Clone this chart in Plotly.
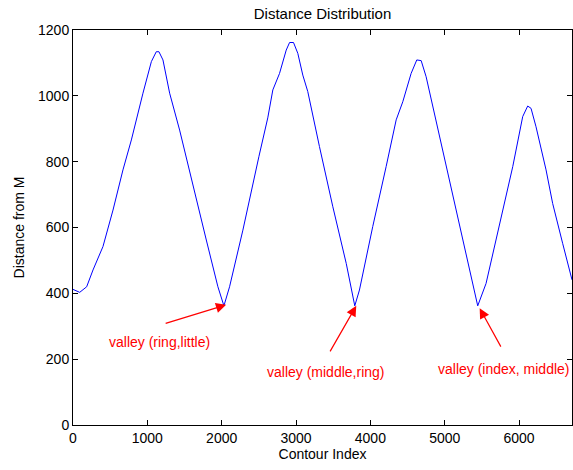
import plotly.graph_objects as go

# Contour index (x) and distance from M (y)
contour_index = [0, 90, 184, 269, 403, 538, 672, 785, 941, 1054, 1120, 1156, 1210, 1300,
                 1434, 1613, 1793, 1949, 2030, 2106, 2285, 2500, 2620, 2688, 2778, 2868,
                 2913, 2966, 3024, 3091, 3158, 3315, 3495, 3675, 3790, 3853, 3898, 4032,
                 4212, 4347, 4436, 4548, 4624, 4683, 4750, 4929, 5108, 5288, 5444, 5556,
                 5735, 5915, 6049, 6116, 6161, 6228, 6363, 6452, 6586, 6712]
distance = [412, 403, 420, 471, 542, 653, 775, 866, 1008, 1104, 1134, 1134, 1109, 1008,
            896, 734, 562, 420, 362, 420, 592, 815, 933, 1018, 1068, 1139,
            1162, 1162, 1129, 1063, 1013, 846, 663, 491, 362, 410, 461, 603,
            785, 927, 982, 1068, 1109, 1107, 1058, 876, 704, 511, 362, 430,
            603, 785, 937, 969, 962, 906, 775, 673, 552, 441]

x_ticks = [0, 1000, 2000, 3000, 4000, 5000, 6000]
y_ticks = [0, 200, 400, 600, 800, 1000, 1200]

valley_labels = ["valley (ring,little)", "valley (middle,ring)", "valley (index, middle)"]
valley_x = [2060, 3810, 5470]
valley_y = [365, 362, 355]

FONT = "Liberation Sans, Arial, Helvetica, sans-serif"

fig = go.Figure()
fig.add_trace(go.Scatter(x=contour_index, y=distance, mode="lines",
                         line=dict(color="#0000ff", width=1), showlegend=False))

# arrow tails (pixel offsets) and text placement
arrow_off = [(-62, 19), (-27, 47), (22, 40)]
text_pos = [(1167, 252, "center"), (3399, 161, "center"), (6712, 170, "right")]

anns = []
for i, lab in enumerate(valley_labels):
    anns.append(dict(x=valley_x[i], y=valley_y[i], xref="x", yref="y", text="",
                     showarrow=True, ax=arrow_off[i][0], ay=arrow_off[i][1],
                     arrowhead=2, arrowsize=1.7, arrowwidth=1.2, arrowcolor="#ff0000"))
    tx, ty, anchor = text_pos[i]
    anns.append(dict(x=tx, y=ty, xref="x", yref="y", text=lab, showarrow=False,
                     xanchor=anchor, yanchor="middle",
                     font=dict(family=FONT, size=14, color="#ff0000")))

fig.update_layout(
    width=573, height=470,
    margin=dict(l=73, r=1, t=30, b=45, pad=0, autoexpand=False),
    paper_bgcolor="white", plot_bgcolor="white",
    font=dict(family=FONT, size=14, color="black"),
    title=dict(text="Distance Distribution", x=0.5, xref="paper", xanchor="center",
               y=1 - 14 / 470, yref="container", yanchor="middle",
               font=dict(family=FONT, size=15, color="black")),
    annotations=anns,
)
fig.update_xaxes(range=[0, 6712], tickvals=x_ticks, ticks="inside", ticklen=5,
                 tickcolor="black", showline=True, linecolor="black", linewidth=1,
                 mirror="ticks", showgrid=False, zeroline=False, automargin=False,
                 title=dict(text="Contour Index", standoff=2,
                            font=dict(family=FONT, size=14, color="black")),
                 tickfont=dict(family=FONT, size=14, color="black"))
fig.update_yaxes(range=[0, 1200], tickvals=y_ticks, ticks="inside", ticklen=5,
                 tickcolor="black", showline=True, linecolor="black", linewidth=1,
                 mirror="ticks", showgrid=False, zeroline=False, automargin=False,
                 title=dict(text="Distance from M", standoff=10,
                            font=dict(family=FONT, size=14, color="black")),
                 tickfont=dict(family=FONT, size=14, color="black"))

# remove the browser's default 8px page margin so the 573x470 figure fills the window
fig.write_html("out.html", config={"displayModeBar": False},
               post_script="document.body.style.margin='0';document.body.style.overflow='hidden';")
